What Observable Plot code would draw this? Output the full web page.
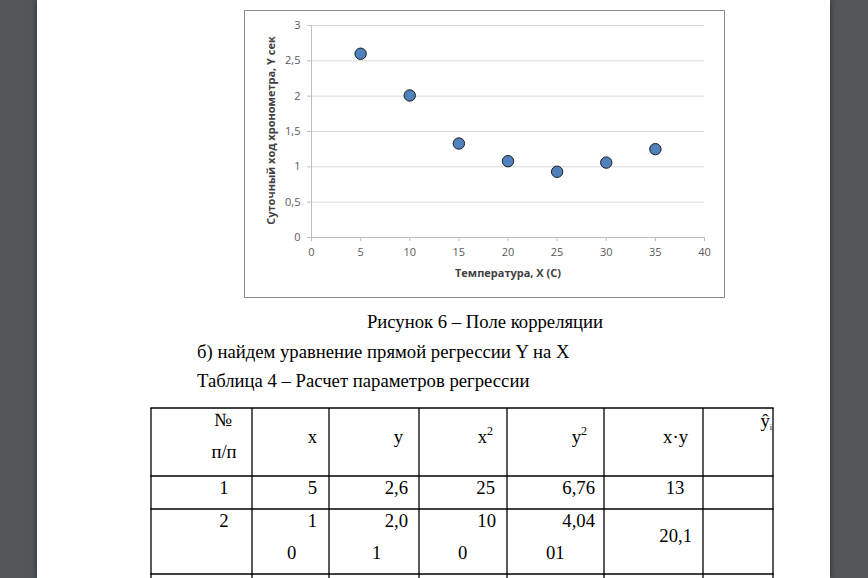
<!DOCTYPE html>
<html><head><meta charset="utf-8">
<script src="https://cdn.jsdelivr.net/npm/d3@7"></script>
<script src="https://cdn.jsdelivr.net/npm/@observablehq/plot@0.6"></script>
<style>
html,body{margin:0;padding:0;width:868px;height:578px;overflow:hidden;background:#525659;}
#page{position:absolute;left:37px;top:0;width:793px;height:578px;background:#fff;box-shadow:0 0 5px rgba(0,0,0,0.55);}
#chart{position:absolute;left:244px;top:10px;width:481px;height:288px;border:1px solid #8c8c8c;box-sizing:border-box;background:#fff;}
#chart svg{display:block;}
#doc{position:absolute;left:0;top:0;pointer-events:none;}
</style></head><body>
<div id="page"></div>
<div id="chart"></div>
<svg id="doc" width="868" height="578"></svg>
<script>
// ---- chart data ----
const temperature = [5, 10, 15, 20, 25, 30, 35];
const dailyRate = [2.6, 2.01, 1.33, 1.08, 0.93, 1.06, 1.25];
const xTicks = [0, 5, 10, 15, 20, 25, 30, 35, 40];
const yTicks = [0, 0.5, 1, 1.5, 2, 2.5, 3];
const xTitle = "Температура, X (С)";
const yTitle = "Суточный ход хронометра, Y сек";

// ---- document text ----
const figureCaption = "Рисунок 6 – Поле корреляции";
const paragraph = "б) найдем уравнение прямой регрессии Y на X";
const tableCaption = "Таблица 4 – Расчет параметров регрессии";

// ---- table data ----
const rowNo = ["1", "2"];
const colX = ["5", "10"];
const colY = ["2,6", "2,01"];
const colX2 = ["25", "100"];
const colY2 = ["6,76", "4,0401"];
const colXY = ["13", "20,1"];

const fmt = d => String(d).replace(".", ",");
const data = temperature.map((t, i) => ({t, v: dailyRate[i]}));
const axisColor = "#bfbfbf";

const chart = Plot.plot({
  width: 479, height: 286,
  marginLeft: 66, marginRight: 20, marginTop: 14, marginBottom: 60,
  style: {fontFamily: "'Open Sans', sans-serif", fontSize: "11px", color: "#595959", background: "#fff", overflow: "visible"},
  x: {domain: [0, 40], label: null},
  y: {domain: [0, 3], label: null},
  marks: [
    Plot.gridY(yTicks, {stroke: "#d9d9d9", strokeOpacity: 1, strokeWidth: 1}),
    Plot.axisY(yTicks, {tickSize: 4, stroke: axisColor, strokeOpacity: 1, tickPadding: 7, tickFormat: fmt, fill: "#595959", label: null}),
    Plot.axisX(xTicks, {tickSize: 4, stroke: axisColor, strokeOpacity: 1, tickPadding: 7, fill: "#595959", label: null}),
    Plot.ruleY([0], {stroke: axisColor}),
    Plot.ruleX([0], {stroke: axisColor}),
    Plot.dot(data, {x: "t", y: "v", r: 5.7, fill: "#4f81bd", stroke: "#1c1c1c", strokeWidth: 1}),
    Plot.text([xTitle], {frameAnchor: "bottom", dy: 39, fontWeight: "bold", fontSize: 11, fill: "#404040"}),
    Plot.text([yTitle], {frameAnchor: "left", textAnchor: "middle", dx: -40, dy: -1, rotate: -90, fontWeight: "bold", fontSize: 11, fill: "#404040"})
  ]
});
document.getElementById("chart").appendChild(chart);

// ---- document overlay ----
const svg = d3.select("#doc");
const serif = "'Liberation Serif', 'Times New Roman', serif";
const fs = 18.7;
function txt(s, x, y, anchor = "start", size = fs) {
  return svg.append("text").attr("x", x).attr("y", y).attr("text-anchor", anchor)
    .attr("font-family", serif).attr("font-size", size).attr("fill", "#000").text(s);
}
txt(figureCaption, 485, 328, "middle");
txt(paragraph, 197, 358);
txt(tableCaption, 197, 387);

// table grid
const colEdges = [151, 252, 329, 419, 507, 604, 703, 773];
const rowEdges = [408, 476, 509, 574, 600];
const g = svg.append("g").attr("stroke", "#000").attr("stroke-width", 1.3);
colEdges.forEach(x => g.append("line").attr("x1", x).attr("x2", x).attr("y1", rowEdges[0]).attr("y2", 600));
rowEdges.slice(0, 4).forEach(y => g.append("line").attr("x1", colEdges[0] - 0.6).attr("x2", colEdges[7] + 0.6).attr("y1", y).attr("y2", y));

// header
txt("№", 223, 426, "middle");
txt("п/п", 224, 458, "middle");
txt("x", 317, 443, "end");
txt("y", 403, 443, "end");
function sup(base, x, y) {
  const t = txt("", x, y, "end");
  t.append("tspan").text(base);
  t.append("tspan").attr("font-size", 12).attr("dy", -8).text("2");
}
sup("x", 493, 443);
sup("y", 587, 443);
txt("x·y", 688, 443, "end");
const yh = txt("", 772, 427, "end");
yh.append("tspan").text("ŷ");
yh.append("tspan").attr("font-size", 8).attr("dy", 3).text("i");

// row 1
const r1 = 494;
txt(rowNo[0], 224, r1, "middle");
txt(colX[0], 317, r1, "end");
txt(colY[0], 408, r1, "end");
txt(colX2[0], 495, r1, "end");
txt(colY2[0], 595, r1, "end");
txt(colXY[0], 675, r1, "middle");

// row 2 (wrapped cells as in the source)
const r2a = 527, r2b = 559;
txt(rowNo[1], 224, r2a, "middle");
txt(colX[1].slice(0, 1), 317, r2a, "end");
txt(colX[1].slice(1), 287, r2b);
txt(colY[1].slice(0, 3), 408, r2a, "end");
txt(colY[1].slice(3), 372, r2b);
txt(colX2[1].slice(0, 2), 496, r2a, "end");
txt(colX2[1].slice(2), 458, r2b);
txt(colY2[1].slice(0, 4), 595, r2a, "end");
txt(colY2[1].slice(4), 546, r2b);
txt(colXY[1], 692, 542, "end");
</script>
</body></html>
